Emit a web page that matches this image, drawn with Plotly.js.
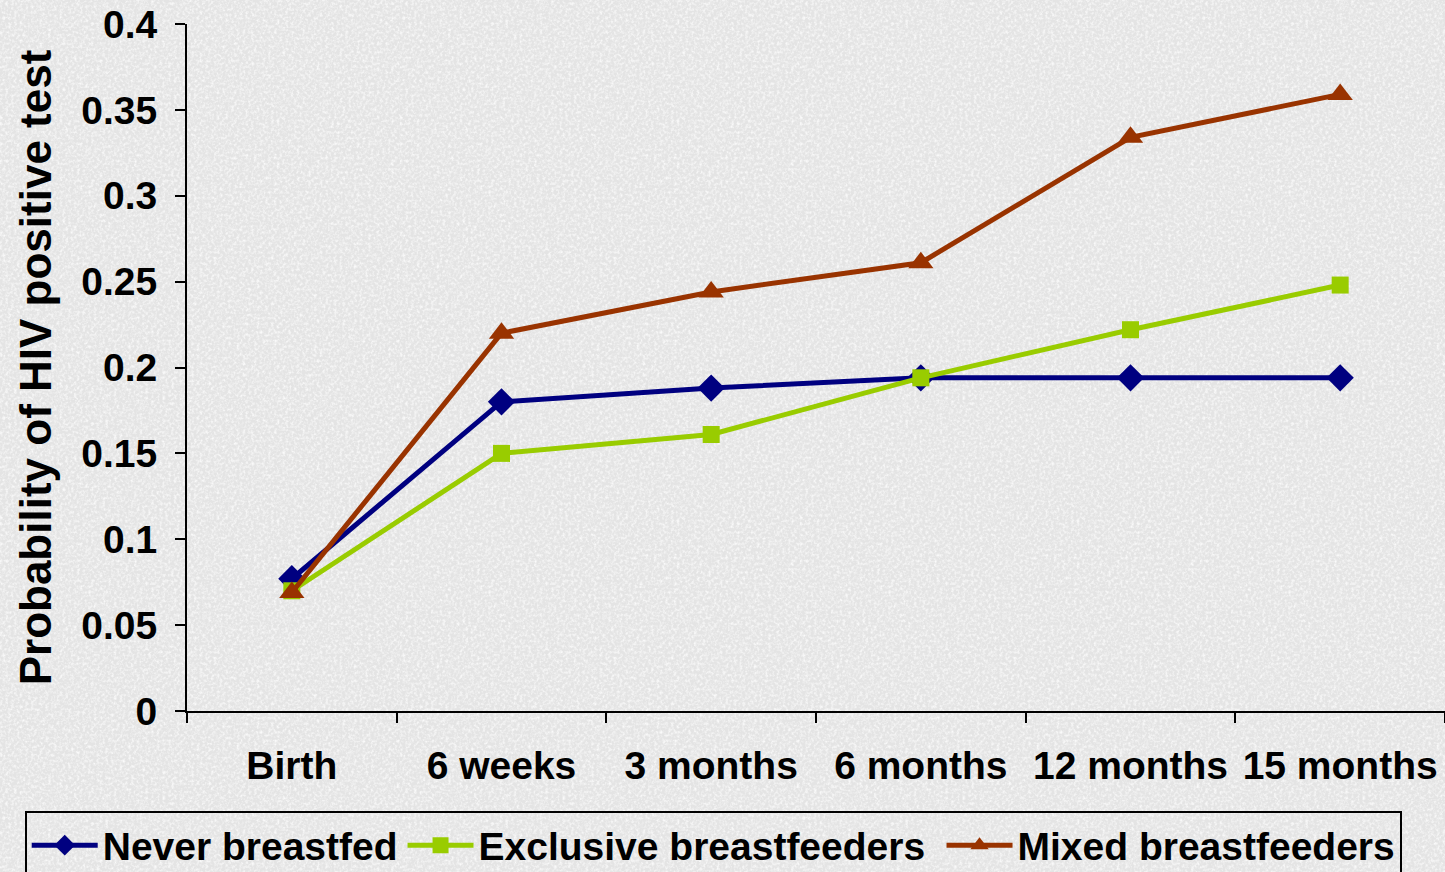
<!DOCTYPE html>
<html>
<head>
<meta charset="utf-8">
<script src="https://cdn.plot.ly/plotly-3.0.1.min.js"></script>
<style>
html,body{margin:0;padding:0;background-color:#e8e8e8;}
body{background-image:url("data:image/svg+xml;utf8,<svg xmlns='http://www.w3.org/2000/svg' width='400' height='400'><filter id='n'><feTurbulence type='fractalNoise' baseFrequency='0.35' numOctaves='3' stitchTiles='stitch'/><feColorMatrix type='matrix' values='0 0 0 0 1  0 0 0 0 1  0 0 0 0 1  0 0 0 -2.2 1.3'/></filter><rect width='400' height='400' fill='%23e4e4e4'/><rect width='400' height='400' filter='url(%23n)' opacity='0.8'/></svg>");}
#chart{width:1445px;height:872px;}
</style>
</head>
<body>
<div id="chart"></div>
<script>
const categories = ["Birth", "6 weeks", "3 months", "6 months", "12 months", "15 months"];
const neverBreastfed = [0.077, 0.180, 0.188, 0.194, 0.194, 0.194];
const exclusiveBreastfeeders = [0.070, 0.150, 0.161, 0.194, 0.222, 0.248];
const mixedBreastfeeders = [0.069, 0.220, 0.244, 0.261, 0.334, 0.359];
const seriesNames = ["Never breastfed", "Exclusive breastfeeders", "Mixed breastfeeders"];
const yTicks = [0, 0.05, 0.1, 0.15, 0.2, 0.25, 0.3, 0.35, 0.4];
const yTickLabels = ["0", "0.05", "0.1", "0.15", "0.2", "0.25", "0.3", "0.35", "0.4"];

const font = "Liberation Sans, Arial, sans-serif";
const traces = [
  {x: categories, y: neverBreastfed, name: seriesNames[0], type: "scatter", mode: "lines+markers",
   line: {color: "#000080", width: 5}, marker: {symbol: "diamond", size: 21, color: "#000080"}},
  {x: categories, y: exclusiveBreastfeeders, name: seriesNames[1], type: "scatter", mode: "lines+markers",
   line: {color: "#99CC00", width: 5}, marker: {symbol: "square", size: 17, color: "#99CC00"},
   legendwidth: 458},
  {x: categories, y: mixedBreastfeeders, name: seriesNames[2], type: "scatter", mode: "lines+markers",
   line: {color: "#993300", width: 5}, marker: {symbol: "triangle-up", size: 22, color: "#993300"}}
];

const layout = {
  width: 1445, height: 872,
  margin: {l: 187, r: 0, t: 24, b: 161, autoexpand: false},
  paper_bgcolor: "rgba(0,0,0,0)",
  plot_bgcolor: "rgba(0,0,0,0)",
  font: {family: font, color: "#000", size: 39, weight: "bold"},
  showlegend: true,
  xaxis: {
    type: "category", range: [-0.5, 5.5],
    showline: true, linecolor: "#000", linewidth: 2,
    ticks: "outside", ticklen: 10, tickwidth: 2, tickcolor: "#000",
    tickson: "boundaries", showgrid: false, zeroline: false,
    tickfont: {family: font, size: 39, weight: "bold"},
    ticklabelstandoff: 19
  },
  yaxis: {
    range: [0, 0.4], tickvals: yTicks, ticktext: yTickLabels,
    showline: true, linecolor: "#000", linewidth: 2,
    ticks: "outside", ticklen: 10, tickwidth: 2, tickcolor: "#000",
    showgrid: false, zeroline: false,
    tickfont: {family: font, size: 39, weight: "bold"},
    ticklabelstandoff: 10,
    title: {text: "Probability of HIV positive test", font: {family: font, size: 44, weight: "bold"}, standoff: 16}
  },
  legend: {
    orientation: "h", x: -0.129, xanchor: "left", y: -0.146, yanchor: "top",
    bordercolor: "#000", borderwidth: 2, bgcolor: "rgba(0,0,0,0)",
    font: {family: font, size: 39, weight: "bold"},
    itemwidth: 66
  }
};

Plotly.newPlot("chart", traces, layout, {displayModeBar: false, staticPlot: true});
</script>
</body>
</html>
